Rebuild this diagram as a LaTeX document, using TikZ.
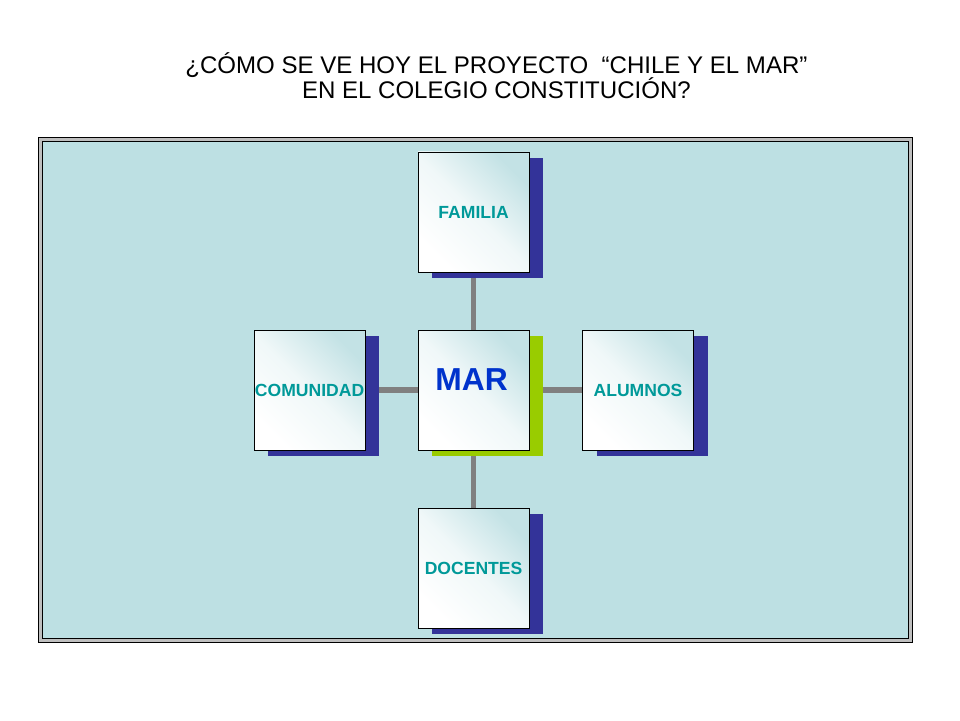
\documentclass[tikz,border=0pt]{standalone}
\usepackage{fontspec}
\setmainfont{Liberation Sans}
\usetikzlibrary{shadows,backgrounds}
\definecolor{framebg}{HTML}{BDE0E3}
\definecolor{boxtint}{HTML}{C3E2E5}
\definecolor{labelteal}{HTML}{009999}
\definecolor{marblue}{HTML}{0033CC}
\definecolor{shadowblue}{HTML}{333399}
\definecolor{shadowgreen}{HTML}{99CC00}
\definecolor{linkgray}{HTML}{808080}

\begin{document}
\begin{tikzpicture}[
    card/.style={draw=black, line width=0.6pt, minimum width=2.775cm, minimum height=3cm,
                 inner sep=0pt, top color=boxtint, bottom color=white, middle color=white!75!boxtint,
                 shading angle=-45,
                 font=\bfseries\fontsize{12.5}{15}\selectfont, text=labelteal},
    blueshade/.style={general shadow={shadow xshift=0.35cm, shadow yshift=-0.16cm, fill=shadowblue}},
    greenshade/.style={general shadow={shadow xshift=0.35cm, shadow yshift=-0.16cm, fill=shadowgreen}},
    link/.style={draw=linkgray, line width=3.6pt}]
    \useasboundingbox (0,0) rectangle (24,18);
    % title
    \node (title) at (12.41,16.11) [align=center, font=\fontsize{17.1}{17.8}\selectfont]
        {¿CÓMO SE VE HOY EL PROYECTO \ “CHILE Y EL MAR”\\EN EL COLEGIO CONSTITUCIÓN?};
    % frame
    \begin{scope}[on background layer]
      \filldraw[fill=black!25, draw=black, line width=0.7pt] (0.95,1.95) rectangle (22.8,14.575);
      \filldraw[fill=framebg, draw=black, line width=0.7pt] (1.05,2.05) rectangle (22.7,14.475);
    \end{scope}
    % cards
    \node (mar)  at (11.84, 8.25) [card, greenshade] {};
    \node (marlabel) at (11.79, 8.5) [font=\bfseries\fontsize{22.6}{24}\selectfont, text=marblue] {MAR};
    \node (fam)  at (11.84,12.70) [card, blueshade] {FAMILIA};
    \node (com)  at ( 7.74, 8.25) [card, blueshade] {COMUNIDAD};
    \node (alu)  at (15.95, 8.25) [card, blueshade] {ALUMNOS};
    \node (doc)  at (11.84, 3.80) [card, blueshade] {DOCENTES};
    % links
    \begin{scope}[on background layer]
      \draw[link] (mar) -- (fam);
      \draw[link] (mar) -- (com);
      \draw[link] (mar) -- (alu);
      \draw[link] (mar) -- (doc);
    \end{scope}
\end{tikzpicture}
\end{document}
